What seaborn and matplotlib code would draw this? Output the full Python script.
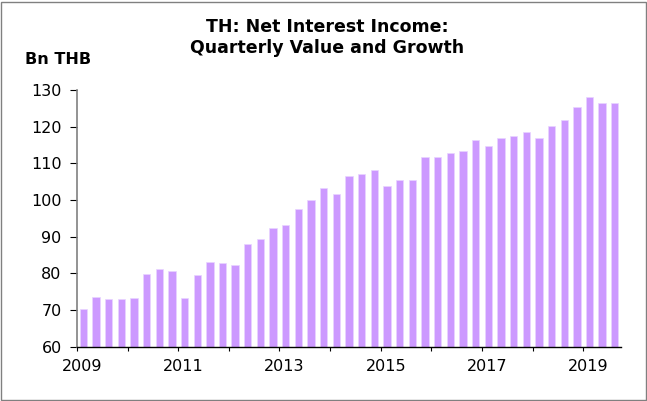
import matplotlib.pyplot as plt
import matplotlib.transforms as mtransforms
import seaborn as sns
import pandas as pd

# Quarterly net interest income, Bn THB (2009Q1 - 2019Q3)
quarters = [
    '2009Q1', '2009Q2', '2009Q3', '2009Q4',
    '2010Q1', '2010Q2', '2010Q3', '2010Q4',
    '2011Q1', '2011Q2', '2011Q3', '2011Q4',
    '2012Q1', '2012Q2', '2012Q3', '2012Q4',
    '2013Q1', '2013Q2', '2013Q3', '2013Q4',
    '2014Q1', '2014Q2', '2014Q3', '2014Q4',
    '2015Q1', '2015Q2', '2015Q3', '2015Q4',
    '2016Q1', '2016Q2', '2016Q3', '2016Q4',
    '2017Q1', '2017Q2', '2017Q3', '2017Q4',
    '2018Q1', '2018Q2', '2018Q3', '2018Q4',
    '2019Q1', '2019Q2', '2019Q3',
]
nii = [
    70.3, 73.6, 72.9, 73.1,
    73.3, 79.9, 81.3, 80.7,
    73.2, 79.7, 83.1, 82.9,
    82.4, 87.9, 89.5, 92.3,
    93.2, 97.6, 100.1, 103.2,
    101.5, 106.5, 107.0, 108.1,
    103.9, 105.4, 105.5, 111.7,
    111.7, 112.8, 113.4, 116.3,
    114.8, 116.9, 117.3, 118.6,
    116.8, 120.1, 121.8, 125.4,
    128.0, 126.3, 126.3,
]
year_labels = ['2009', '', '2011', '', '2013', '', '2015', '', '2017', '', '2019']

df = pd.DataFrame({'quarter': quarters, 'nii': nii})

plt.rcParams['font.family'] = ['DejaVu Sans']

fig = plt.figure(figsize=(6.47, 4.01), dpi=100)
ax = fig.add_axes([0.119, 0.135, 0.841, 0.641])

sns.barplot(data=df, x='quarter', y='nii', color='#CC99FF', width=0.58,
            edgecolor='#E8D4FF', linewidth=0.5, saturation=1, ax=ax)

ax.set_ylim(60, 130)
ax.set_yticks(range(60, 131, 10))
ax.set_xlim(-0.5, len(quarters) - 0.5)
ax.set_xticks([i - 0.5 for i in range(0, 44, 4)])
ax.set_xticklabels(year_labels)
ax.set_xlabel('')
ax.set_ylabel('')
ax.tick_params(axis='both', labelsize=11.5, colors='black', direction='out')
ax.tick_params(axis='y', length=5, width=0.8, pad=6)
ax.tick_params(axis='x', length=3, width=0.8, pad=6)

# year labels sit a little right of their tick in the original
shift = mtransforms.ScaledTranslation(5 / 100, 0, fig.dpi_scale_trans)
for lbl in ax.get_xticklabels():
    lbl.set_transform(lbl.get_transform() + shift)

ax.spines['top'].set_visible(False)
ax.spines['right'].set_visible(False)
ax.spines['left'].set_color('#808080')
ax.spines['left'].set_linewidth(1.2)
ax.spines['bottom'].set_color('black')
ax.spines['bottom'].set_linewidth(1.0)

fig.text(0.5054, 0.9202, 'TH: Net Interest Income:', ha='center', va='baseline',
         fontsize=12.5, fontweight='bold')
fig.text(0.5054, 0.8678, 'Quarterly Value and Growth', ha='center', va='baseline',
         fontsize=12.5, fontweight='bold')
fig.text(0.0386, 0.8404, 'Bn THB', ha='left', va='baseline', fontsize=11.5, fontweight='bold')

# thin grey frame around the figure
fig.patches.append(plt.Rectangle((0.002, 0.002), 0.996, 0.994, transform=fig.transFigure,
                                 fill=False, edgecolor='#808080', linewidth=1.0))

plt.savefig('out.png', dpi=100)
plt.close()
